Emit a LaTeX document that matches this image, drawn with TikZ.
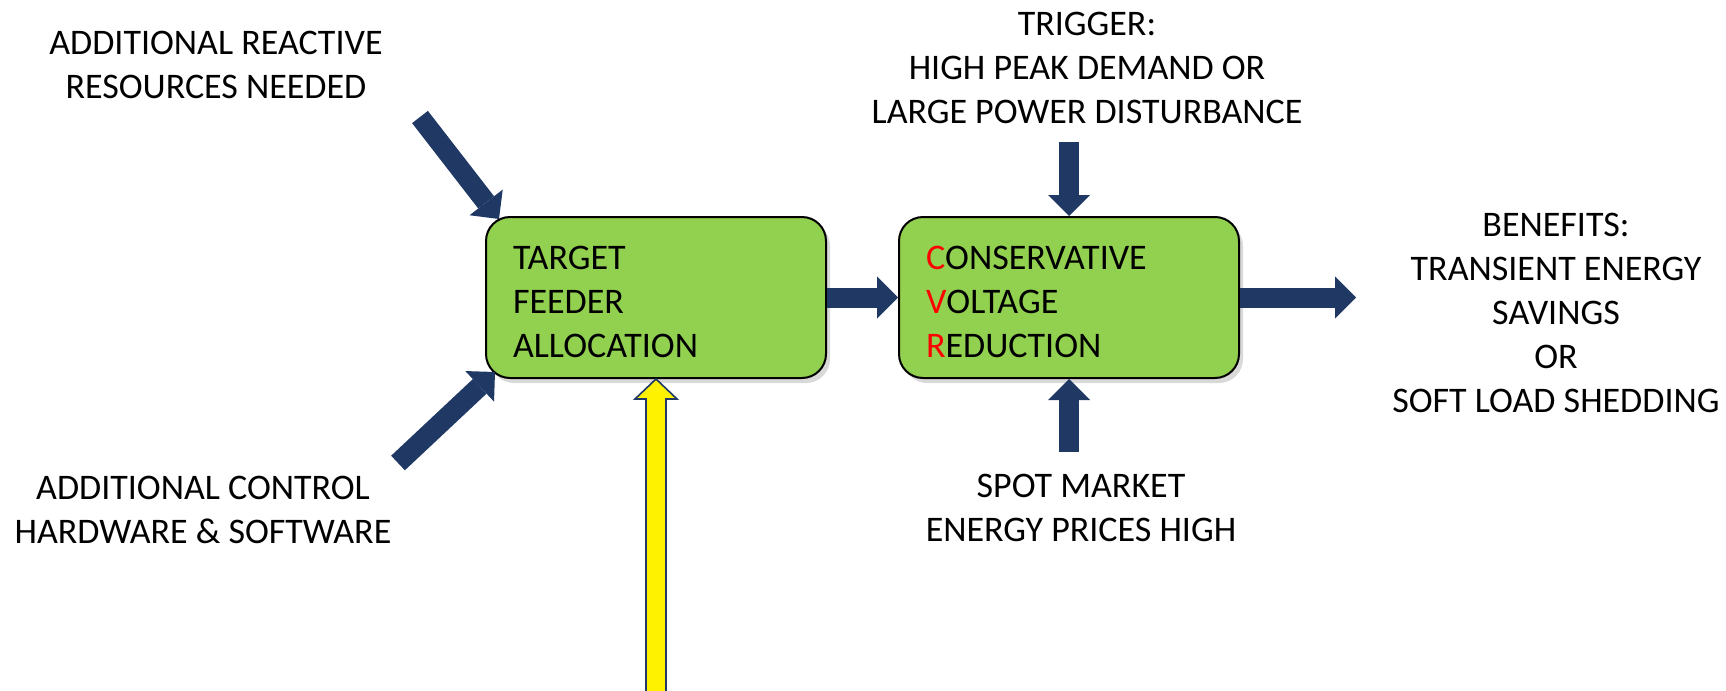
\documentclass[tikz,border=0pt]{standalone}
\usepackage{fontspec}
\setmainfont{Carlito}
\usetikzlibrary{arrows.meta, positioning, calc, shadows}
\definecolor{navy}{HTML}{203864}
\definecolor{leafgreen}{HTML}{92D050}
\newcommand{\toprow}{\rule{0pt}{16.1pt}}
\tikzset{%
	block/.style={draw, rectangle, rounded corners=12pt, fill=leafgreen, line width=1pt,%
		minimum height=80.5pt, text width=143pt, inner xsep=13.5pt, inner ysep=0pt, align=left,%
		font=\fontsize{18}{22}\selectfont,%
		drop shadow={shadow xshift=2pt, shadow yshift=-2.5pt, opacity=0.3}},
	remark/.style={align=center, inner sep=0pt, font=\fontsize{18}{22}\selectfont},
	flow/.style={line width=10pt, navy, -{Triangle[width=21pt, length=10.5pt, line width=0pt]}},
	feed/.style={draw=navy, fill=yellow, line width=0.8pt, line join=miter}
}

\begin{document}
\begin{tikzpicture}[x=0.5pt, y=-0.5pt]
	\useasboundingbox (0,0) rectangle (1726,691);

	\node[block] (tfa) at (656,297.5) {\toprow TARGET\\FEEDER\\ALLOCATION};
	\node[block, right=35.5pt of tfa] (cvr)
		{\toprow\textcolor{red}{C}ONSERVATIVE\\\textcolor{red}{V}OLTAGE\\\textcolor{red}{R}EDUCTION};

	\node[remark] (reactive) at (216,65) {ADDITIONAL REACTIVE\\RESOURCES NEEDED};
	\node[remark] (control) at (203,510) {ADDITIONAL CONTROL\\HARDWARE \& SOFTWARE};
	\node[remark] (trigger) at (1087,68) {TRIGGER:\\HIGH PEAK DEMAND OR\\LARGE POWER DISTURBANCE};
	\node[remark] (spot) at (1081,508) {SPOT MARKET\\ENERGY PRICES HIGH};
	\node[remark] (benefit) at (1556,313) {BENEFITS:\\TRANSIENT ENERGY\\SAVINGS\\OR\\SOFT LOAD SHEDDING};

	\coordinate (reactive-tail) at (420,117);
	\coordinate (control-tail) at (398,463);
	\coordinate[above=37pt of cvr.north] (trigger-tail);
	\coordinate[below=36.5pt of cvr.south] (spot-tail);
	\coordinate[right=58pt of cvr.east] (benefit-tip);

	\draw[flow] (reactive-tail) to ($(tfa.north west)+(14,3)$);
	\draw[flow] (control-tail) to ($(tfa.south west)+(10,-7)$);
	\draw[flow] (tfa) to (cvr);
	\draw[flow] (trigger-tail) to (cvr.north);
	\draw[flow] (spot-tail) to (cvr.south);
	\draw[flow] (cvr) to (benefit-tip);

	\draw[feed] (tfa.south) -- ++(21,20) -- ++(-11,0) -- ++(0,293) -- ++(-20,0)
		-- ++(0,-293) -- ++(-11,0) -- cycle;
\end{tikzpicture}
\end{document}
